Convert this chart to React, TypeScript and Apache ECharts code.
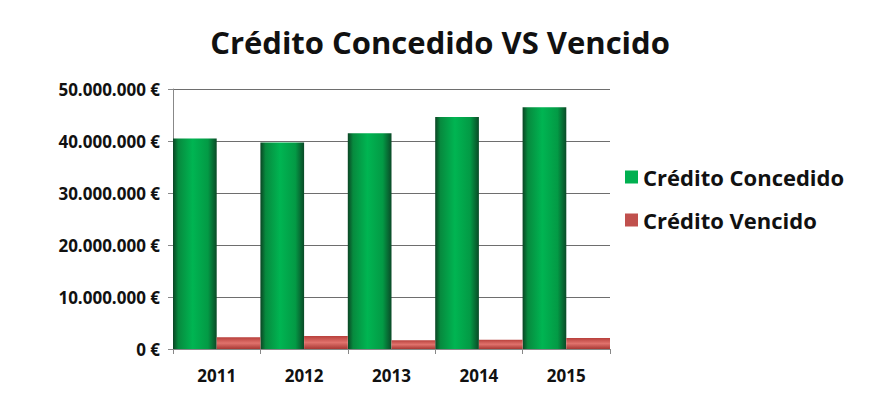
import React, { useEffect, useRef } from "react";
import * as echarts from "echarts";

const categories = ["2011", "2012", "2013", "2014", "2015"];
const concedido = [40500000, 39700000, 41500000, 44600000, 46500000];
const vencido = [2250000, 2500000, 1700000, 1800000, 2100000];
const yTicks = [0, 10000000, 20000000, 30000000, 40000000, 50000000];

const fmt = (v: number) => {
  const s = Math.round(v).toString().replace(/\B(?=(\d{3})+(?!\d))/g, ".");
  return s + " €";
};

export default function App() {
  const ref = useRef<HTMLDivElement>(null);
  useEffect(() => {
    if (!ref.current) return;
    const chart = echarts.init(ref.current, null, { renderer: "svg" });
    const font = "Open Sans, Lato, sans-serif";
    chart.setOption({
      animation: false,
      backgroundColor: "#ffffff",
      title: {
        text: "Crédito Concedido VS Vencido",
        left: 435,
        textAlign: "center",
        top: 21,
        textStyle: { fontFamily: font, fontWeight: "bold", fontSize: 31, color: "#111" },
      },
      legend: {
        orient: "vertical",
        left: 620,
        top: 161,
        itemGap: 21,
        itemWidth: 13,
        itemHeight: 13,
        icon: "rect",
        textStyle: { fontFamily: font, fontWeight: "bold", fontSize: 22, color: "#111" },
        data: [
          { name: "Crédito Concedido", itemStyle: { color: "#00b050" } },
          { name: "Crédito Vencido", itemStyle: { color: "#c0504d" } },
        ],
      },
      grid: { left: 173, right: 261, top: 89, bottom: 52 },
      xAxis: {
        type: "category",
        data: categories,
        axisLine: { lineStyle: { color: "#888", width: 1 } },
        axisTick: { show: true, alignWithLabel: false, length: 5, lineStyle: { color: "#888" } },
        axisLabel: { fontFamily: font, fontWeight: "bold", fontSize: 17, color: "#111", margin: 18 },
      },
      yAxis: {
        type: "value",
        min: yTicks[0],
        max: yTicks[yTicks.length - 1],
        interval: yTicks[1] - yTicks[0],
        axisLine: { show: true, lineStyle: { color: "#888", width: 1 } },
        axisTick: { show: true, length: 5, lineStyle: { color: "#888" } },
        splitLine: { lineStyle: { color: "#6e6e6e", width: 1 } },
        axisLabel: {
          fontFamily: font,
          fontWeight: "bold",
          fontSize: 17,
          color: "#111",
          margin: 13,
          formatter: (v: number) => fmt(v),
        },
      },
      series: [
        {
          name: "Crédito Concedido",
          type: "bar",
          data: concedido,
          barGap: "0%",
          barCategoryGap: "0%",
          itemStyle: {
            color: new echarts.graphic.LinearGradient(0, 0, 1, 0, [
              { offset: 0, color: "#0b4424" },
              { offset: 0.12, color: "#078a3e" },
              { offset: 0.45, color: "#00b552" },
              { offset: 0.8, color: "#039a45" },
              { offset: 1, color: "#0a4a27" },
            ]),
          },
        },
        {
          name: "Crédito Vencido",
          type: "bar",
          data: vencido,
          barGap: "0%",
          barCategoryGap: "0%",
          itemStyle: {
            color: new echarts.graphic.LinearGradient(0, 0, 0, 1, [
              { offset: 0, color: "#b8403c" },
              { offset: 0.5, color: "#e0726c" },
              { offset: 1, color: "#a83834" },
            ]),
          },
        },
      ],
    });
    return () => chart.dispose();
  }, []);
  return (
    <div
      ref={ref}
      style={{ position: "fixed", left: 0, top: 0, width: 871, height: 401 }}
    />
  );
}
